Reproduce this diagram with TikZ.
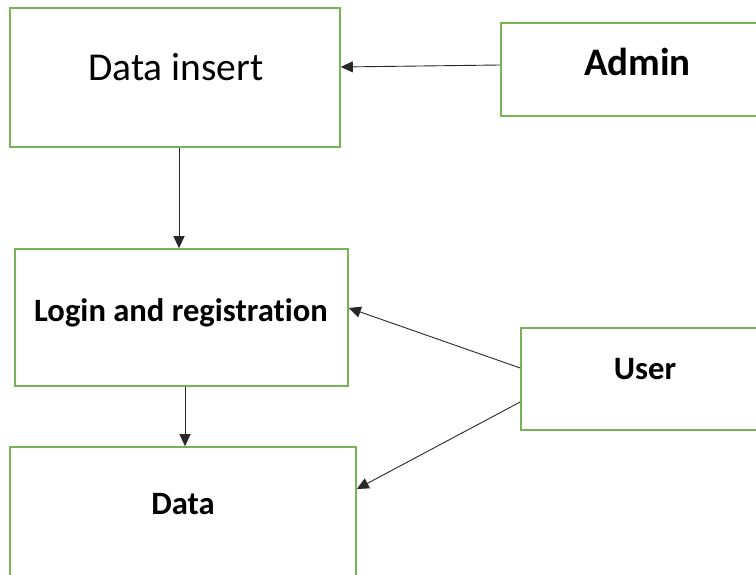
\documentclass[tikz,border=0pt]{standalone}
\usepackage{fontspec}
\setmainfont[Ligatures={NoCommon,NoDiscretionary,NoContextual}]{Carlito}
\usetikzlibrary{calc,arrows.meta}
\definecolor{boxgreen}{RGB}{120,180,85}
\definecolor{linegray}{RGB}{40,40,40}
\tikzset{
  box/.style={draw=boxgreen, line width=1.6pt, rectangle, inner sep=0pt},
  arr/.style={draw=linegray, line width=0.9pt, -{Triangle[length=12pt,width=11pt]}},
  bigtxt/.style={anchor=base, inner sep=0pt, font=\fontsize{39.5}{41}\selectfont},
  bigbold/.style={anchor=base, inner sep=0pt, font=\fontsize{39}{41}\selectfont\bfseries},
  midbold/.style={anchor=base, inner sep=0pt, font=\fontsize{32.6}{34}\selectfont\bfseries}
}
\begin{document}
\begin{tikzpicture}[x=1pt,y=-1pt]
\useasboundingbox (0,0) rectangle (756,575);
\begin{scope}
\clip (0,0) rectangle (756,575);
\node[box, minimum width=330pt, minimum height=139pt] (datains) at (175,77.5) {};
\node[box, minimum width=265pt, minimum height=93pt] (admin) at (633.5,69.5) {};
\node[box, minimum width=333pt, minimum height=137pt] (login) at (181.5,317.5) {};
\node[box, minimum width=246pt, minimum height=102pt] (user) at (644,379) {};
\node[box, minimum width=346pt, minimum height=160pt] (data) at (183,527) {};
\end{scope}
\node[bigtxt] (tdatains) at (176,81) {Data insert};
\node[bigbold] (tadmin) at (637.5,76) {Admin};
\node[midbold] (tlogin) at (181,321) {Login and registration};
\node[midbold] (tuser) at (645,379) {User};
\node[midbold] (tdata) at (183,514) {Data};
\draw[arr] ($(admin.west)+(0,-4.5)$) -- ($(datains.east)+(0,-10.5)$);
\draw[arr] ($(datains.south)+(4,0)$) -- ($(login.north)+(-2.5,0)$);
\draw[arr] ($(login.south)+(3.5,0)$) -- ($(data.north)+(2,0)$);
\draw[arr] ($(user.west)+(0,-11)$) -- ($(login.east)+(0,-9.5)$);
\draw[arr] ($(user.west)+(0,23)$) -- ($(data.east)+(0,-38)$);
\end{tikzpicture}
\end{document}
